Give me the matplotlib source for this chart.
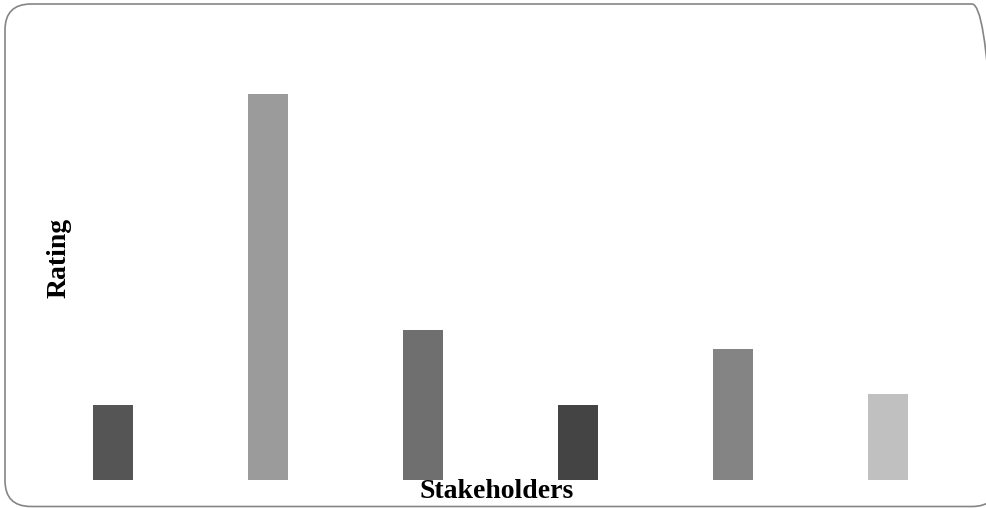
import matplotlib.pyplot as plt
from matplotlib.patches import FancyBboxPatch

stakeholders = ['S1', 'S2', 'S3', 'S4', 'S5', 'S6']
ratings = [2.0, 10.3, 4.0, 2.0, 3.5, 2.3]
colors = ['#555555', '#9b9b9b', '#6f6f6f', '#444444', '#848484', '#c0c0c0']

fig = plt.figure(figsize=(9.86, 5.08), dpi=100)
ax = fig.add_axes([35.5 / 986, 28 / 508, 930 / 986, 412.5 / 508])

x = range(len(stakeholders))
ax.bar(x, ratings, width=0.258, color=colors)
ax.set_xlim(-0.5, len(stakeholders) - 0.5)
ax.set_ylim(0, 11)
ax.axis('off')

font = dict(family='Liberation Serif', weight='bold', size=20)
fig.text(497 / 986, 1 - 492 / 508, 'Stakeholders', ha='center', va='center', **font)
fig.text(59 / 986, 1 - 258 / 508, 'Rating', ha='center', va='center', rotation=90, **font)

# rounded frame around the whole chart (right side runs past the edge)
frame = FancyBboxPatch((5, 1.5), 993, 502.5, boxstyle='round,pad=0,rounding_size=26',
                       transform=None, fill=False, edgecolor='#858585', linewidth=1.2,
                       clip_on=False)
fig.patches.append(frame)

fig.savefig('out.png', dpi=100)
